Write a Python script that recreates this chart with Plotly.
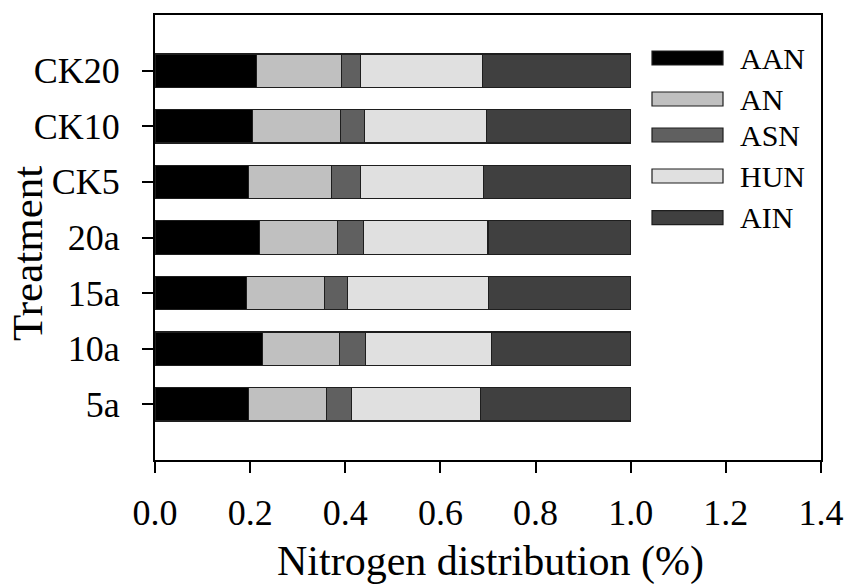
import plotly.graph_objects as go

treatments = ["5a", "10a", "15a", "20a", "CK5", "CK10", "CK20"]
series_names = ["AAN", "AN", "ASN", "HUN", "AIN"]
AAN = [0.196, 0.226, 0.193, 0.220, 0.196, 0.205, 0.214]
AN = [0.165, 0.161, 0.163, 0.164, 0.175, 0.185, 0.178]
ASN = [0.052, 0.056, 0.049, 0.054, 0.061, 0.051, 0.040]
HUN = [0.272, 0.265, 0.296, 0.262, 0.258, 0.256, 0.256]
AIN = [0.315, 0.292, 0.299, 0.300, 0.310, 0.303, 0.312]
x_ticks = [0.0, 0.2, 0.4, 0.6, 0.8, 1.0, 1.2, 1.4]

colors = ["#000000", "#c0c0c0", "#606060", "#e0e0e0", "#404040"]
values = [AAN, AN, ASN, HUN, AIN]
FONT = "Liberation Serif"

fig = go.Figure()
for name, vals, col in zip(series_names, values, colors):
    fig.add_trace(go.Bar(
        y=treatments, x=vals, name=name, orientation="h",
        marker=dict(color=col, line=dict(color="#1e1e1e", width=1.2)),
        showlegend=False,
    ))

W, H = 848, 585
L, R, T, B = 155, 27, 15, 125
pw, ph = W - L - R, H - T - B

def px_x(x):
    return (x - L) / pw

def px_y(y):
    return 1 - (y - T) / ph

# legend drawn as shapes + text
leg_centers = [58, 99, 135, 176, 217.6]
shapes = []
annotations = []
for name, col, cy in zip(series_names, colors, leg_centers):
    shapes.append(dict(type="rect", xref="paper", yref="paper",
                       x0=px_x(652), x1=px_x(723), y0=px_y(cy + 7), y1=px_y(cy - 7),
                       fillcolor=col, line=dict(color="#1e1e1e", width=1.2)))
    annotations.append(dict(text=name, xref="paper", yref="paper",
                            x=px_x(738), y=px_y(cy), xanchor="left", yanchor="middle",
                            showarrow=False, font=dict(family=FONT, size=30, color="black")))

annotations.append(dict(text="Nitrogen distribution (%)", xref="paper", yref="paper",
                        x=px_x(490), y=px_y(561), xanchor="center", yanchor="middle",
                        showarrow=False, font=dict(family=FONT, size=42, color="black")))
annotations.append(dict(text="Treatment", xref="paper", yref="paper",
                        x=px_x(27), y=px_y(254), xanchor="center", yanchor="middle",
                        textangle=-90, showarrow=False,
                        font=dict(family=FONT, size=43, color="black")))

fig.update_layout(
    barmode="stack", bargap=0.4,
    width=W, height=H,
    margin=dict(l=L, r=R, t=T, b=B, pad=0, autoexpand=False),
    plot_bgcolor="white", paper_bgcolor="white",
    font=dict(family=FONT, color="black"),
    shapes=shapes, annotations=annotations,
)
fig.update_xaxes(range=[0, 1.4], tickvals=x_ticks, ticktext=[f"{v:.1f}" for v in x_ticks],
                 showgrid=False, zeroline=False, showline=True, mirror=True,
                 linecolor="black", linewidth=2, ticks="outside", ticklen=11,
                 tickwidth=1.5, tickcolor="black", tickfont=dict(family=FONT, size=36),
                 ticklabelstandoff=9, automargin=False)
fig.update_yaxes(type="category", categoryorder="array", categoryarray=treatments,
                 range=[-1, 7], showgrid=False, zeroline=False, showline=True, mirror=True,
                 linecolor="black", linewidth=2, ticks="outside", ticklen=11,
                 tickwidth=1.5, tickcolor="black", tickfont=dict(family=FONT, size=36),
                 ticklabelstandoff=15, automargin=False)

fig.write_html("out.html", config={"displayModeBar": False},
               post_script="document.body.style.margin='0';document.body.style.padding='0';")
